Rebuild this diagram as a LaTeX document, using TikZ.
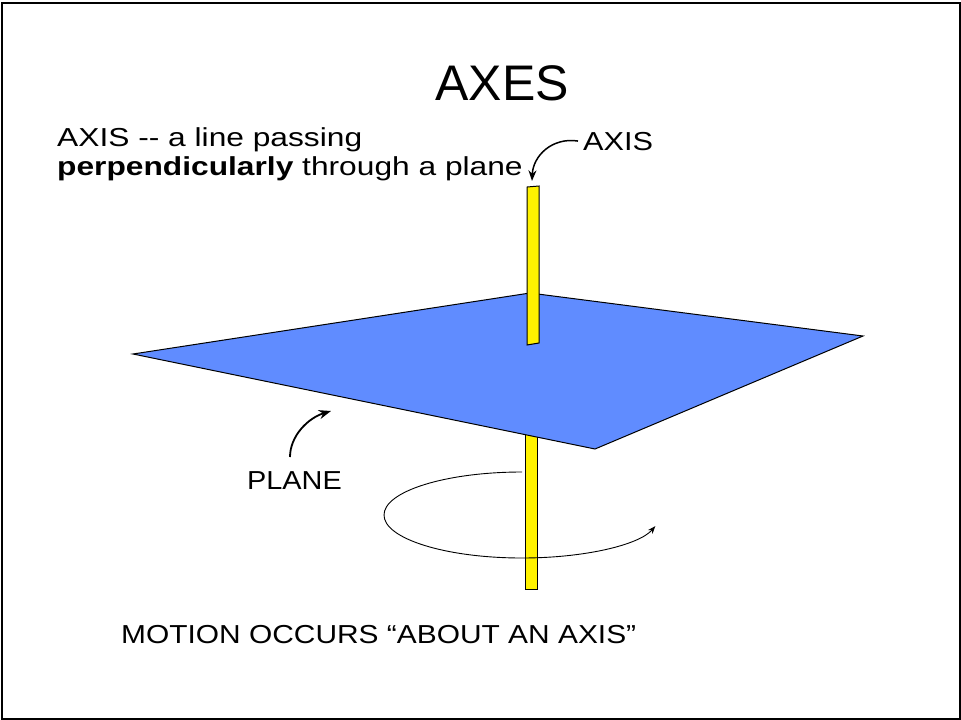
\documentclass[tikz,border=0pt]{standalone}
\usepackage{fontspec}
\setmainfont{Liberation Sans}
\usetikzlibrary{arrows.meta}
\definecolor{planeblue}{RGB}{96,140,255}
\tikzset{
    plane face/.style={
        draw,line width=1pt,
        fill=planeblue,line join=miter
    },
    axis rod/.style={
        draw,line width=1pt,
        fill=yellow
    },
    slide text/.style={
        inner sep=0pt,
        font=\fontsize{26}{29}\selectfont\addfontfeature{FakeStretch=#1}
    },
    slide text/.default=1,
    >={[scale=1.1]Stealth}
}

\begin{document}
\begin{tikzpicture}[x=1pt,y=-1pt]
\useasboundingbox (0,0) rectangle (961,720);
\draw[line width=2pt] (1.5,2.5) rectangle (959.5,718.5);
% texts
\node[inner sep=0pt,font=\fontsize{50}{60}\selectfont,anchor=base] (title) at (502,100) {AXES};
\node[slide text=1.22,anchor=north west,align=left] (defn) at (57,127.5) {AXIS -{}- a line passing\\\textbf{perpendicularly} through a plane};
\node[slide text=1.18,anchor=base west] (axislbl) at (583,150) {AXIS};
\node[slide text=1.11,anchor=base west] (planelbl) at (247,489) {PLANE};
\node[slide text=1.15,anchor=base west] (motion) at (121,643) {MOTION OCCURS “ABOUT AN AXIS”};
% lower part of the rod, behind the plane
\draw[axis rod] (525,425) -- (537,425) -- (537,589) -- (525,589) -- cycle;
% the plane
\draw[plane face] (133,354) -- (530,293) -- (863,336) -- (595,449) -- cycle;
% upper part of the rod
\draw[axis rod] (527,187) -- (539,186) -- (539,343) -- (527,345) -- cycle;
\coordinate (rodtop) at (532,181);
\coordinate (planeedge) at (331,411);
% rotation about the axis
\draw[->,line width=0.9pt] (522,472) arc[start angle=270,end angle=15,x radius=138,y radius=43];
% pointers
\draw[->,line width=1.5pt] ([xshift=-5pt]axislbl.west) .. controls (552,137) and (533,156) .. (rodtop);
\draw[->,line width=1.8pt] (290,457) .. controls (290,436) and (308,418) .. (planeedge);
\end{tikzpicture}
\end{document}
